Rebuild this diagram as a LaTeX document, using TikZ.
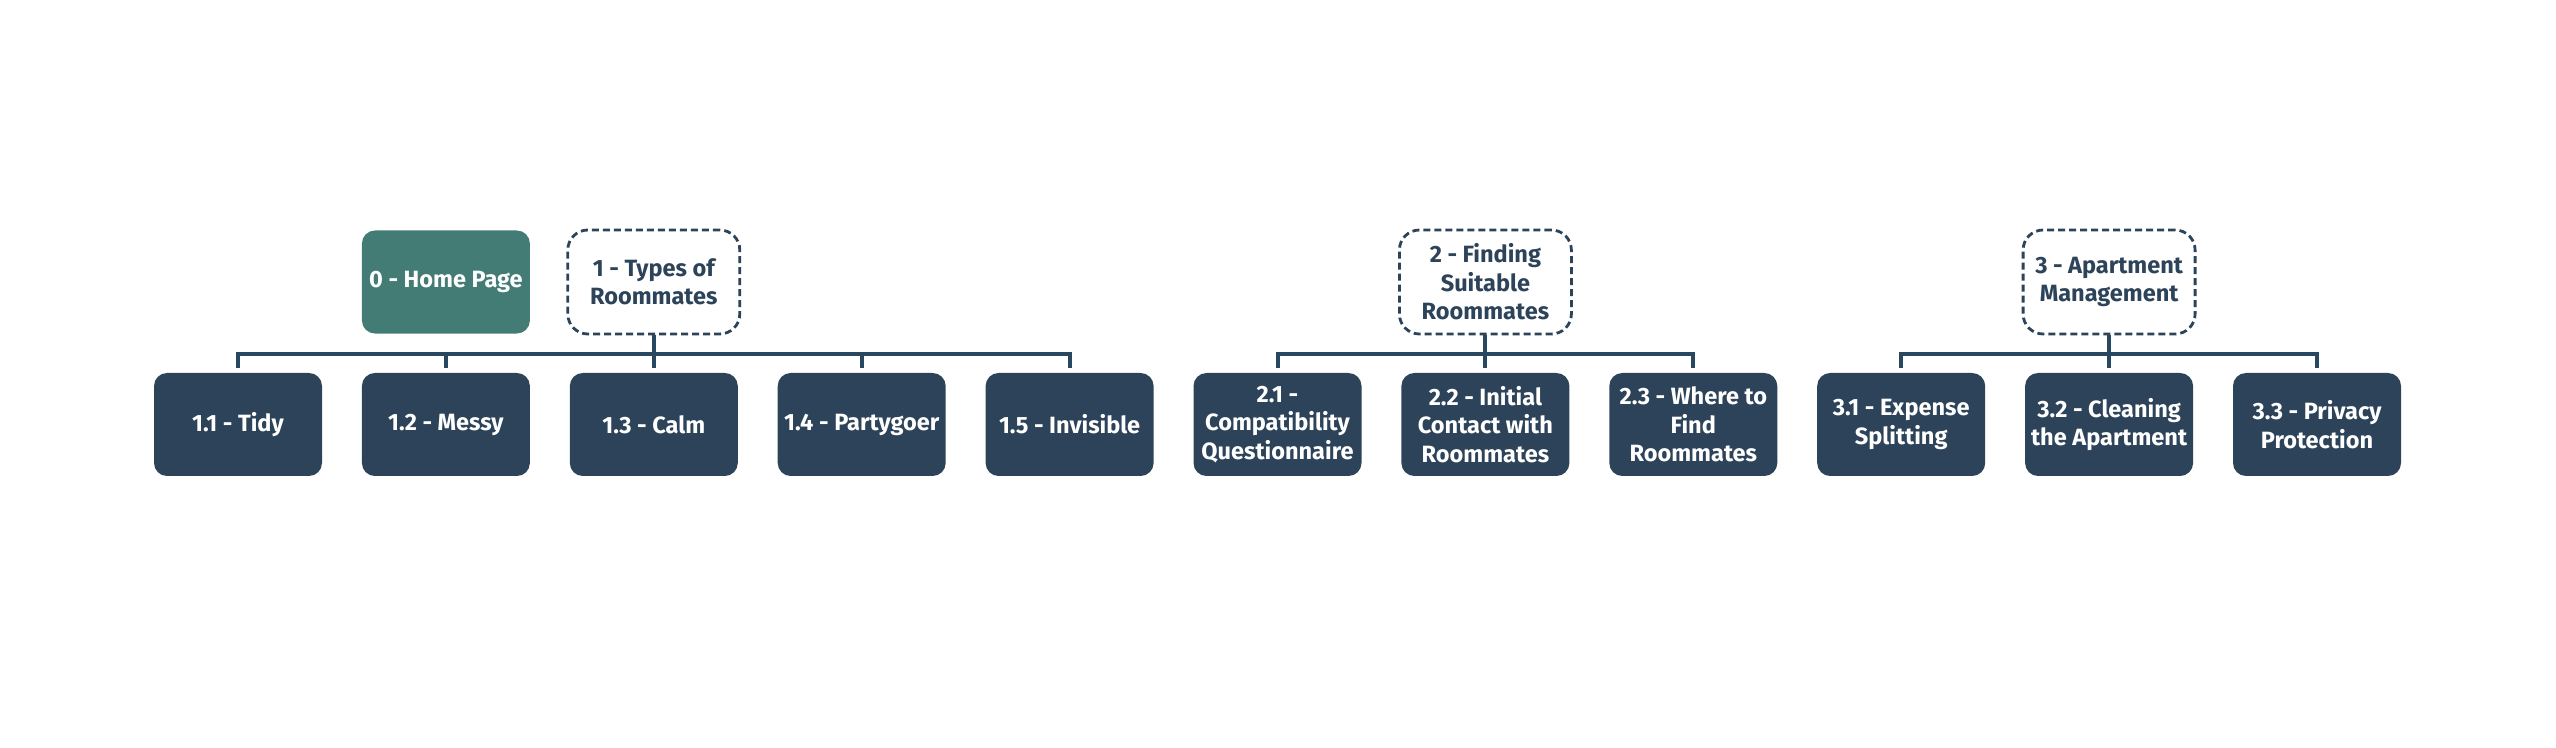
\documentclass[tikz,border=0pt]{standalone}
\usepackage{fontspec}
\setmainfont{Fira Sans}
\usetikzlibrary{calc}
\definecolor{navy}{HTML}{2C4359}
\definecolor{homegreen}{HTML}{427C75}
\definecolor{linkblue}{HTML}{284760}

\begin{document}
\begin{tikzpicture}[
	leaf/.style={fill=navy, rounded corners=0.13cm, minimum width=1.68cm, minimum height=1.03cm,
		inner sep=0pt, align=center, text=white, font=\bfseries\fontsize{6.7}{8.1}\selectfont},
	home/.style={leaf, fill=homegreen},
	topic/.style={leaf, fill=white, draw=navy, text=navy, line width=0.028cm,
		dash pattern=on 0.07cm off 0.04cm, rounded corners=0.2cm,
		minimum width=1.72cm, minimum height=1.04cm},
	link/.style={draw=linkblue, line width=0.04cm}
	]
	%%%%% START %%%%%
	\def\xa{2.38}
	\def\pitch{2.079}
	\def\ychild{3.225}
	\def\ytop{4.65}
	\def\ybar{3.933}
	\def\gap{0.04}
	
	\useasboundingbox (0,0) rectangle (25.56,7.47);
	\coordinate (bar) at (0,\ybar);
	
	% top row
	\node[home] (home) at (\xa+\pitch,\ytop) {0 - Home Page};
	\node[topic] (t1) at (\xa+2*\pitch,\ytop) {1 - Types of\\Roommates};
	\node[topic] (t2) at (\xa+6*\pitch,\ytop) {2 - Finding\\Suitable\\Roommates};
	\node[topic] (t3) at (\xa+9*\pitch,\ytop) {3 - Apartment\\Management};
	
	% pages
	\node[leaf] (c11) at (\xa,\ychild) {1.1 - Tidy};
	\node[leaf] (c12) at (\xa+\pitch,\ychild) {1.2 - Messy};
	\node[leaf] (c13) at (\xa+2*\pitch,\ychild) {1.3 - Calm};
	\node[leaf] (c14) at (\xa+3*\pitch,\ychild) {1.4 - Partygoer};
	\node[leaf] (c15) at (\xa+4*\pitch,\ychild) {1.5 - Invisible};
	
	\node[leaf] (c21) at (\xa+5*\pitch,\ychild) {2.1 -\\Compatibility\\Questionnaire};
	\node[leaf] (c22) at (\xa+6*\pitch,\ychild) {2.2 - Initial\\Contact with\\Roommates};
	\node[leaf] (c23) at (\xa+7*\pitch,\ychild) {2.3 - Where to\\Find\\Roommates};
	
	\node[leaf] (c31) at (\xa+8*\pitch,\ychild) {3.1 - Expense\\Splitting};
	\node[leaf] (c32) at (\xa+9*\pitch,\ychild) {3.2 - Cleaning\\the Apartment};
	\node[leaf] (c33) at (\xa+10*\pitch,\ychild) {3.3 - Privacy\\Protection};
	
	% tree lines
	\draw[link] ($(c11.north)+(0,\gap)$) -- (c11.north |- bar) -- (c15.north |- bar) -- ($(c15.north)+(0,\gap)$);
	\draw[link] (c12.north |- bar) -- ($(c12.north)+(0,\gap)$);
	\draw[link] (c14.north |- bar) -- ($(c14.north)+(0,\gap)$);
	\draw[link] (t1.south) -- ($(c13.north)+(0,\gap)$);
	
	\draw[link] ($(c21.north)+(0,\gap)$) -- (c21.north |- bar) -- (c23.north |- bar) -- ($(c23.north)+(0,\gap)$);
	\draw[link] (t2.south) -- ($(c22.north)+(0,\gap)$);
	
	\draw[link] ($(c31.north)+(0,\gap)$) -- (c31.north |- bar) -- (c33.north |- bar) -- ($(c33.north)+(0,\gap)$);
	\draw[link] (t3.south) -- ($(c32.north)+(0,\gap)$);
	%%%%% END %%%%%
\end{tikzpicture}
\end{document}
